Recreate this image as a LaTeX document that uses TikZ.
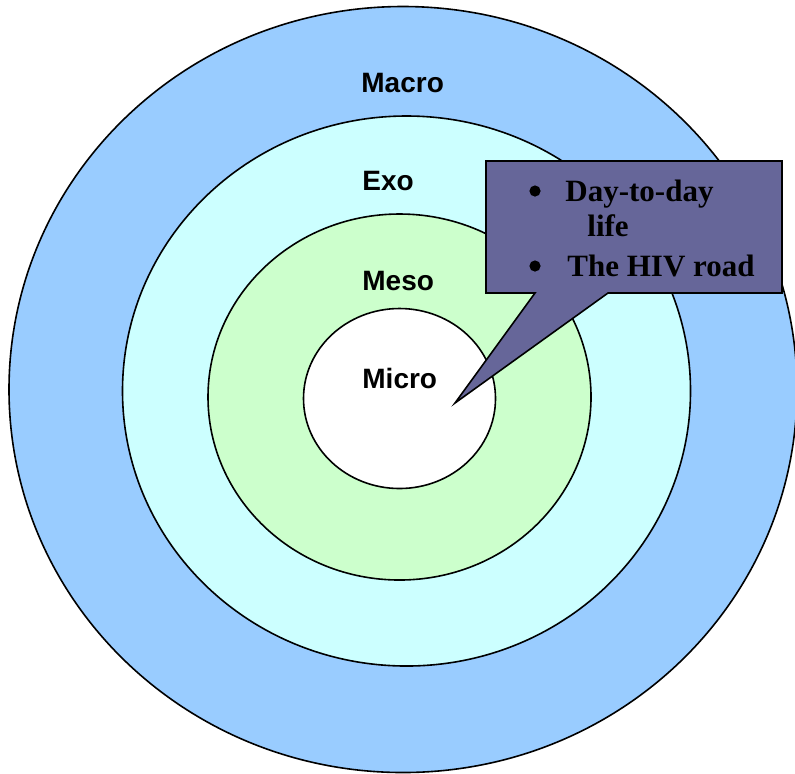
\documentclass[tikz,border=0pt]{standalone}
\usepackage{fontspec}
\setmainfont{Liberation Serif}
\setsansfont{Liberation Sans}
\usepackage{xcolor}
\usetikzlibrary{positioning}
\definecolor{macroblue}{HTML}{99CCFF}
\definecolor{exocyan}{HTML}{CCFFFF}
\definecolor{mesogreen}{HTML}{CCFFCC}
\definecolor{calloutblue}{HTML}{666699}
\tikzstyle{ring} = [draw=black, line width=0.8pt]
\tikzstyle{lvl} = [anchor=base west, inner sep=0pt, font=\sffamily\bfseries\fontsize{14}{16}\selectfont]
\tikzstyle{item} = [anchor=base west, inner sep=0pt, font=\bfseries\fontsize{15.5}{18}\selectfont]
\tikzstyle{dot} = [circle, fill=black, inner sep=0pt, minimum size=5.6pt]

\begin{document}
\begin{tikzpicture}[x=0.5pt, y=-0.5pt]
    \useasboundingbox (0,0) rectangle (795,773);

    % Rings, outside in
    \draw[ring, fill=macroblue] (403,389.5) ellipse [x radius=394, y radius=383];
    \draw[ring, fill=exocyan] (406.5,391) ellipse [x radius=284, y radius=275];
    \draw[ring, fill=mesogreen] (399.5,397) ellipse [x radius=191.5, y radius=183];
    \draw[ring, fill=white] (399.5,398.5) ellipse [x radius=96, y radius=90];

    % Level labels
    \node[lvl] (macro) at (361,92) {Macro};
    \node[lvl] (exo) at (362,190) {Exo};
    \node[lvl] (meso) at (362,290) {Meso};
    \node[lvl] (micro) at (362,388) {Micro};

    % Callout
    \draw[ring, fill=calloutblue] (486,161) -- (782,161) -- (782,293) -- (608,293)
        -- (455,403) -- (535,293) -- (486,293) -- cycle;
    \node[dot] (bulA) at (535,191) {};
    \node[item] (lineA) at (565,201.5) {Day-to-day};
    \node[item] (lineB) at (587,236) {life};
    \node[dot] (bulB) at (535,266) {};
    \node[item] (lineC) at (567,276) {The HIV road};
\end{tikzpicture}
\end{document}
